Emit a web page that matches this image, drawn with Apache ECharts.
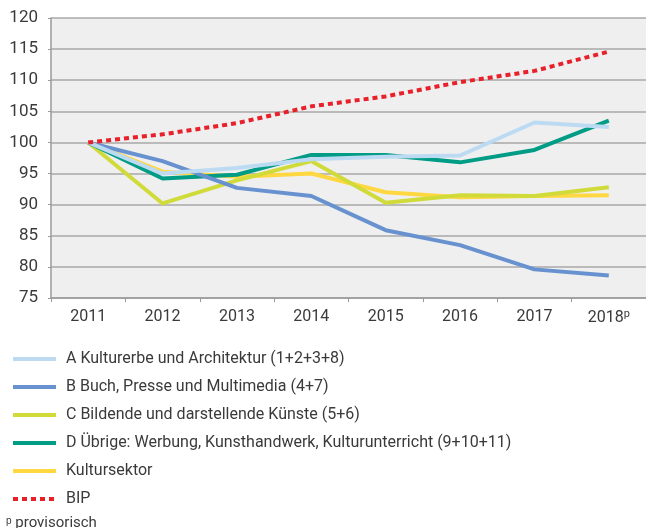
<!DOCTYPE html>
<html>
<head>
<meta charset="utf-8">
<script src="https://cdn.jsdelivr.net/npm/echarts@6/dist/echarts.min.js"></script>
<style>
  html, body { margin: 0; padding: 0; background: #fff; }
  #chart { width: 646px; height: 528px; }
</style>
</head>
<body>
<div id="chart"></div>
<script>
// Jahre (2018 provisorisch)
var years = ['2011', '2012', '2013', '2014', '2015', '2016', '2017', '2018'];

// Index 2011 = 100
var kulturerbe   = [100, 95.0, 95.9, 97.3, 97.7, 97.9, 103.2, 102.5];
var buchPresse   = [100, 97.0, 92.7, 91.4, 85.9, 83.5, 79.6, 78.6];
var bildende     = [100, 90.2, 93.9, 97.0, 90.3, 91.5, 91.4, 92.8];
var uebrige      = [100, 94.2, 94.8, 98.0, 98.0, 96.8, 98.8, 103.5];
var kultursektor = [100, 95.3, 94.5, 95.0, 92.0, 91.2, 91.4, 91.5];
var bip          = [100, 101.3, 103.1, 105.8, 107.4, 109.7, 111.5, 114.6];

var names = [
  'A Kulturerbe und Architektur (1+2+3+8)',
  'B Buch, Presse und Multimedia (4+7)',
  'C Bildende und darstellende Künste (5+6)',
  'D Übrige: Werbung, Kunsthandwerk, Kulturunterricht (9+10+11)',
  'Kultursektor',
  'BIP'
];

var chart = echarts.init(document.getElementById('chart'));

function line(name, data, color, z, dashed) {
  return {
    name: name,
    type: 'line',
    data: data,
    symbol: 'none',
    z: z,
    lineStyle: dashed
      ? { color: color, width: 4, type: [5, 4], cap: 'butt' }
      : { color: color, width: 4 },
    itemStyle: { color: color }
  };
}

chart.setOption({
  animation: false,
  textStyle: { fontFamily: 'Roboto', color: '#3a3a3a' },
  grid: {
    show: true,
    backgroundColor: '#efefef',
    borderWidth: 0,
    left: 51,
    top: 18,
    width: 598,
    height: 280
  },
  xAxis: {
    type: 'category',
    data: years,
    boundaryGap: true,
    axisLine: { lineStyle: { color: '#9a9a9a', width: 1.5 } },
    axisTick: { show: true, length: 4, lineStyle: { color: '#9a9a9a' } },
    axisLabel: {
      interval: 0,
      fontSize: 16,
      color: '#3a3a3a',
      margin: 11,
      formatter: function (v) { return v === '2018' ? v + '{p|p}' : v; },
      rich: { p: { fontSize: 11, verticalAlign: 'top', padding: [0, 0, 6, 0], color: '#3a3a3a' } }
    }
  },
  yAxis: {
    type: 'value',
    min: 75,
    max: 120,
    interval: 5,
    axisLine: { show: true, lineStyle: { color: '#9a9a9a', width: 1.5 } },
    axisTick: { show: true, length: 3, lineStyle: { color: '#9a9a9a' } },
    splitLine: { lineStyle: { color: '#a8a8a8', width: 1.5 } },
    axisLabel: { fontSize: 17, color: '#3a3a3a', margin: 13 }
  },
  legend: {
    orient: 'vertical',
    left: 6,
    top: 346,
    itemWidth: 43,
    itemHeight: 14,
    itemGap: 12,
    itemStyle: { opacity: 0 },
    lineStyle: { width: 4 },
    textStyle: { fontSize: 16, color: '#3a3a3a', padding: [0, 0, 0, 5] },
    data: names
  },
  graphic: [{
    type: 'text',
    left: 6,
    top: 516,
    style: {
      text: '{p|p} provisorisch',
      fontSize: 15,
      fontFamily: 'Roboto',
      fill: '#3a3a3a',
      rich: { p: { fontSize: 10, verticalAlign: 'top', fill: '#3a3a3a' } }
    }
  }],
  series: [
    line(names[4], kultursektor, '#ffd740', 2),
    line(names[2], bildende, '#d0db3a', 3),
    line(names[3], uebrige, '#009c85', 4),
    line(names[1], buchPresse, '#6892cf', 5),
    line(names[0], kulturerbe, '#bcdbf3', 6),
    line(names[5], bip, '#e8202a', 7, true)
  ]
});
</script>
</body>
</html>
